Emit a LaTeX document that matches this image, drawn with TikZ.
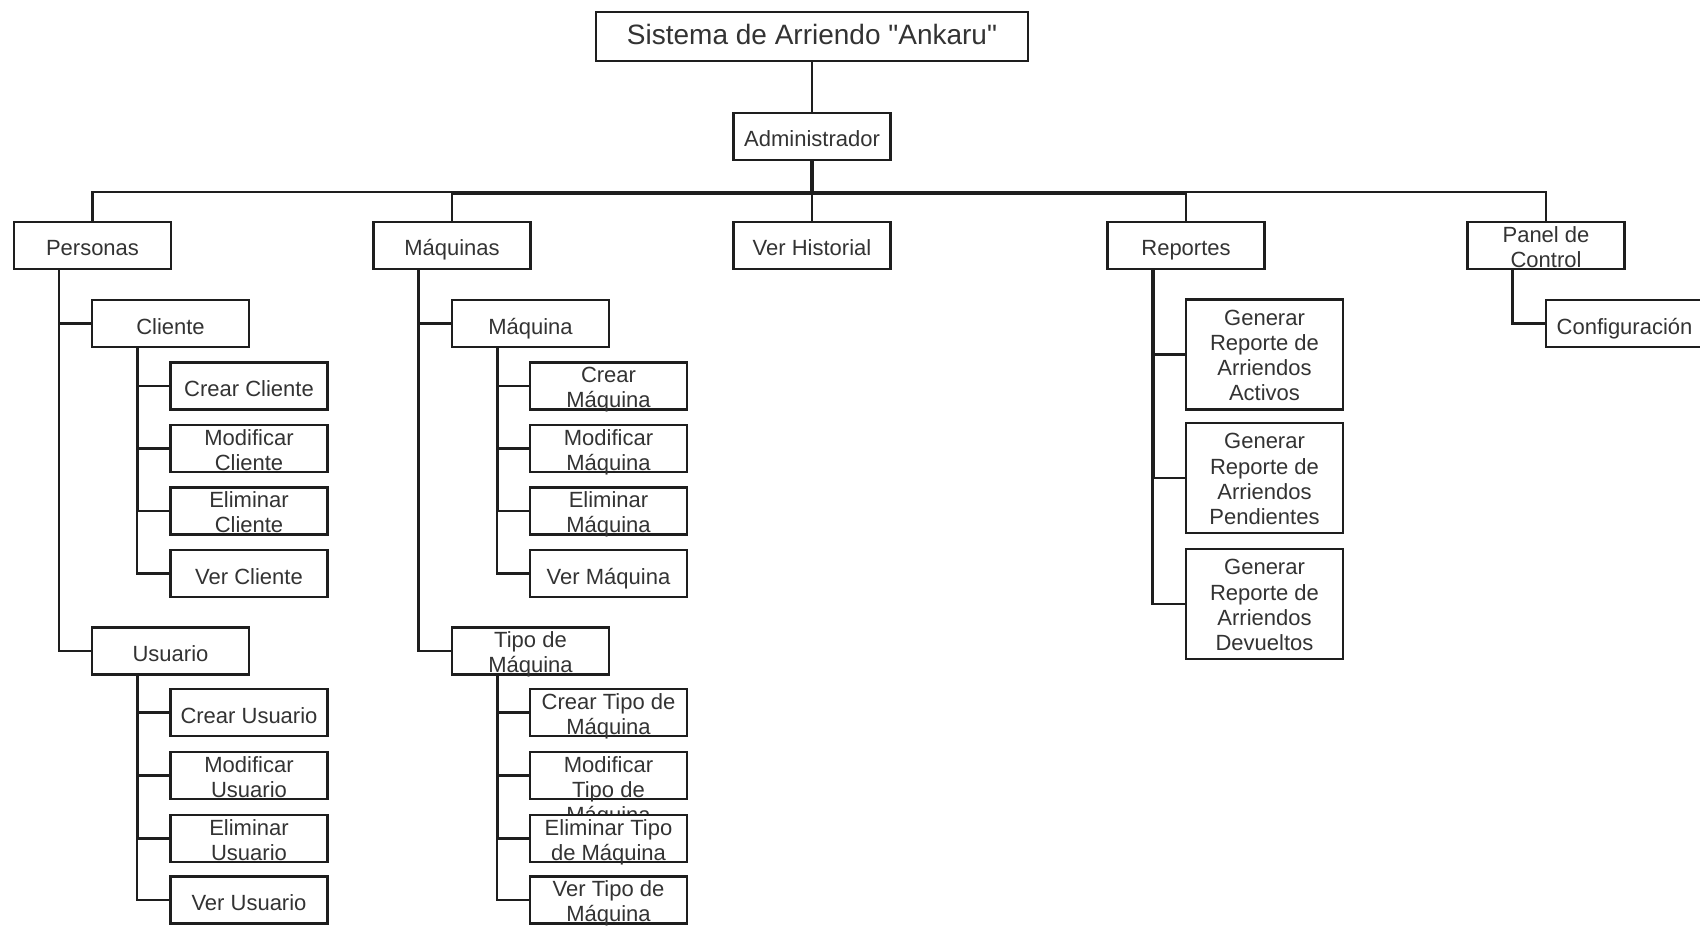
\documentclass[tikz,border=0pt]{standalone}
\usepackage{fontspec}
\setmainfont{Liberation Sans}
% plain family without the TeX quote mapping, so straight quotes stay straight
\newfontfamily\plainsans{Liberation Sans}
\usetikzlibrary{calc}
\pgfdeclarelayer{bg}
\pgfsetlayers{bg,main}
\definecolor{linec}{HTML}{1E1E1E}
\definecolor{txtc}{HTML}{333333}

\begin{document}
\begin{tikzpicture}[x=0.5pt,y=-0.5pt,
  bx/.style={draw=linec, line width=1.15pt, fill=white, inner sep=0pt,
    minimum width=78.5pt, minimum height=23.5pt, text=txtc,
    font=\fontsize{11pt}{12.6pt}\selectfont, align=center},
  one/.style={text height=10.5pt, text depth=0pt},
  tall/.style={minimum height=55pt},
  tx/.style={anchor=north, inner sep=0pt, text=txtc,
    font=\fontsize{11pt}{12.6pt}\selectfont, align=center},
  wire/.style={draw=linec, line width=1.2pt},
]
\useasboundingbox (0,0) rectangle (1700,925);

% top of the tree
\node[bx, minimum width=216pt, minimum height=24.5pt, text height=10pt, text depth=2.2pt,
      font=\plainsans\fontsize{14pt}{16pt}\selectfont] (title) at (812,36.5) {Sistema de Arriendo "Ankaru"};
\node[bx, one] (adm) at (812,136.5) {Administrador};

% first level
\node[bx, one] (pers) at (92.5,245.5) {Personas};
\node[bx, one] (maq)  at (452,245.5) {Máquinas};
\node[bx, one] (vh)   at (812,245.5) {Ver Historial};
\node[bx, one] (rep)  at (1186,245.5) {Reportes};
\node[bx] (pan) at (1546,245.5) {};
\node[tx] (panT) at ([yshift=-2.5pt]pan.north) {Panel de\\Control};

% Personas branch
\node[bx, one] (cli) at (170.5,323.5) {Cliente};
\node[bx, one] (crc) at (249,386) {Crear Cliente};
\node[bx] (mdc) at (249,448.5) {};
\node[tx] (mdcT) at ([yshift=-2.5pt]mdc.north) {Modificar\\Cliente};
\node[bx] (elc) at (249,511) {};
\node[tx] (elcT) at ([yshift=-2.5pt]elc.north) {Eliminar\\Cliente};
\node[bx, one] (vrc) at (249,573.5) {Ver Cliente};

\node[bx, one] (usu) at (170.5,651) {Usuario};
\node[bx, one] (cru) at (249,712.5) {Crear Usuario};
\node[bx] (mdu) at (249,775.5) {};
\node[tx] (mduT) at ([yshift=-2.5pt]mdu.north) {Modificar\\Usuario};
\node[bx] (elu) at (249,838.5) {};
\node[tx] (eluT) at ([yshift=-2.5pt]elu.north) {Eliminar\\Usuario};
\node[bx, one] (vru) at (249,900) {Ver Usuario};

% Maquinas branch
\node[bx, one] (maqn) at (530.5,323.5) {Máquina};
\node[bx] (crm) at (608.5,386) {};
\node[tx] (crmT) at ([yshift=-2.5pt]crm.north) {Crear\\Máquina};
\node[bx] (mdm) at (608.5,448.5) {};
\node[tx] (mdmT) at ([yshift=-2.5pt]mdm.north) {Modificar\\Máquina};
\node[bx] (elm) at (608.5,511) {};
\node[tx] (elmT) at ([yshift=-2.5pt]elm.north) {Eliminar\\Máquina};
\node[bx, one] (vrm) at (608.5,573.5) {Ver Máquina};

\node[bx] (tip) at (530.5,651) {};
\node[tx] (tipT) at ([yshift=-2.5pt]tip.north) {Tipo de\\Máquina};
\node[bx] (crt) at (608.5,712.5) {};
\node[tx] (crtT) at ([yshift=-2.5pt]crt.north) {Crear Tipo de\\Máquina};
\node[bx] (mdt) at (608.5,775.5) {};
\node[tx] (mdtT) at ([yshift=-2.5pt]mdt.north) {Modificar\\Tipo de\\Máquina};
\node[bx] (elt) at (608.5,838.5) {};
\node[tx] (eltT) at ([yshift=-2.5pt]elt.north) {Eliminar Tipo\\de Máquina};
\node[bx] (vrt) at (608.5,900) {};
\node[tx] (vrtT) at ([yshift=-2.5pt]vrt.north) {Ver Tipo de\\Máquina};

% Reportes branch
\node[bx, tall] (ra) at (1264.5,354.5) {};
\node[tx] (raT) at ([yshift=-5.6pt]ra.north) {Generar\\Reporte de\\Arriendos\\Activos};
\node[bx, tall] (rp) at (1264.5,478) {};
\node[tx] (rpT) at ([yshift=-5.6pt]rp.north) {Generar\\Reporte de\\Arriendos\\Pendientes};
\node[bx, tall] (rd) at (1264.5,604) {};
\node[tx] (rdT) at ([yshift=-5.6pt]rd.north) {Generar\\Reporte de\\Arriendos\\Devueltos};

% Panel de Control branch
\node[bx, one] (cfg) at (1624.5,323.5) {Configuración};

\begin{pgfonlayer}{bg}
\fill[white] (0,0) rectangle (1700,925);
\draw[wire] (title) -- (adm);
\draw[wire] ([xshift=-0.6pt]adm.south) -- ++(0,31) -| (pers.north);
\draw[wire] ([xshift=-0.6pt]adm.south) -- ++(0,32.2) -| (maq.north);
\draw[wire] (adm) -- (vh);
\draw[wire] ([xshift=0.6pt]adm.south) -- ++(0,32.2) -| (rep.north);
\draw[wire] ([xshift=0.6pt]adm.south) -- ++(0,31) -| (pan.north);

\draw[wire] ([xshift=23pt]pers.south west) |- (cli.west);
\draw[wire] ([xshift=23pt]pers.south west) |- (usu.west);
\draw[wire] ([xshift=23.6pt]cli.south west) |- (crc.west);
\draw[wire] ([xshift=23.6pt]cli.south west) |- (mdc.west);
\draw[wire] ([xshift=23.6pt]cli.south west) |- (elc.west);
\draw[wire] ([xshift=23pt]cli.south west) |- (vrc.west);
\draw[wire] ([xshift=23.6pt]usu.south west) |- (cru.west);
\draw[wire] ([xshift=23.6pt]usu.south west) |- (mdu.west);
\draw[wire] ([xshift=23.6pt]usu.south west) |- (elu.west);
\draw[wire] ([xshift=23pt]usu.south west) |- (vru.west);

\draw[wire] ([xshift=23pt]maq.south west) |- (maqn.west);
\draw[wire] ([xshift=23pt]maq.south west) |- (tip.west);
\draw[wire] ([xshift=23.6pt]maqn.south west) |- (crm.west);
\draw[wire] ([xshift=23.6pt]maqn.south west) |- (mdm.west);
\draw[wire] ([xshift=23.6pt]maqn.south west) |- (elm.west);
\draw[wire] ([xshift=23pt]maqn.south west) |- (vrm.west);
\draw[wire] ([xshift=23.6pt]tip.south west) |- (crt.west);
\draw[wire] ([xshift=23.6pt]tip.south west) |- (mdt.west);
\draw[wire] ([xshift=23.6pt]tip.south west) |- (elt.west);
\draw[wire] ([xshift=23pt]tip.south west) |- (vrt.west);

\draw[wire] ([xshift=23.6pt]rep.south west) |- (ra.west);
\draw[wire] ([xshift=23.6pt]rep.south west) |- (rp.west);
\draw[wire] ([xshift=23pt]rep.south west) |- (rd.west);

\draw[wire] ([xshift=23pt]pan.south west) |- (cfg.west);
\end{pgfonlayer}
\end{tikzpicture}
\end{document}
